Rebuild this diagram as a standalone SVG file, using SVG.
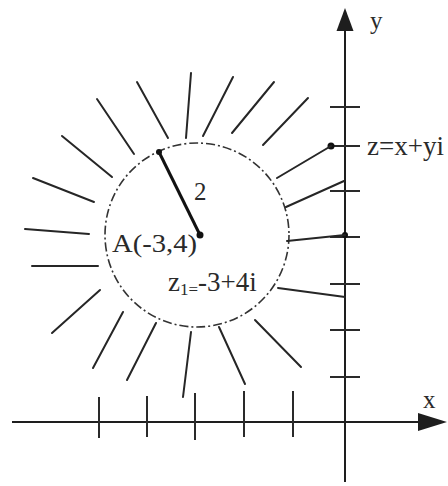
<svg xmlns="http://www.w3.org/2000/svg" width="448" height="486" viewBox="0 0 448 486">
<style>
.ax{stroke:#1e1e1e;stroke-width:2;fill:none}
.tk{stroke:#2a2a2a;stroke-width:2;fill:none}
.sp{stroke:#262626;stroke-width:2;fill:none;stroke-linecap:round}
.cir{stroke:#333;stroke-width:1.6;fill:none;stroke-dasharray:9 3 2 3}
.rad{stroke:#111;stroke-width:3;fill:none}
.dot{fill:#111}
.t{font-family:"Liberation Serif","Times New Roman",serif;fill:#2a2a2a;font-size:25px}
.big{font-size:27px}
</style>
<rect width="448" height="486" fill="#fff"/>
<g id="axes">
  <line class="ax" x1="12" y1="422" x2="422" y2="422"/>
  <polygon points="447,422 418,413 418,431" fill="#1e1e1e"/>
  <line class="ax" x1="345" y1="482" x2="345" y2="28"/>
  <polygon points="345,8 336.5,31 353.5,31" fill="#1e1e1e"/>
  <g id="y-ticks">
    <line class="tk" x1="330" y1="107" x2="360" y2="107"/>
    <line class="tk" x1="330" y1="146" x2="360" y2="146"/>
    <line class="tk" x1="330" y1="191" x2="360" y2="191"/>
    <line class="tk" x1="330" y1="237" x2="360" y2="237"/>
    <line class="tk" x1="330" y1="284" x2="360" y2="284"/>
    <line class="tk" x1="330" y1="330" x2="360" y2="330"/>
    <line class="tk" x1="330" y1="377" x2="360" y2="377"/>
  </g>
  <g id="x-ticks">
    <line class="tk" x1="99" y1="397" x2="99" y2="438"/>
    <line class="tk" x1="147" y1="396" x2="147" y2="437"/>
    <line class="tk" x1="195" y1="393" x2="195" y2="440"/>
    <line class="tk" x1="244" y1="391" x2="244" y2="437"/>
    <line class="tk" x1="293" y1="391" x2="293" y2="437"/>
  </g>
  <text class="t" x="370" y="29">y</text>
  <text class="t" x="423" y="408">x</text>
</g>
<g id="circle">
  <circle class="cir" cx="197" cy="235" r="92"/>
  <line class="rad" x1="159" y1="152" x2="200" y2="235"/>
  <circle class="dot" cx="159" cy="152" r="3"/>
  <circle class="dot" cx="200" cy="235" r="3.5"/>
  <text class="t" x="194" y="200">2</text>
  <text class="t" x="112" y="252" textLength="85" lengthAdjust="spacingAndGlyphs">A(-3,4)</text>
  <text class="t big" x="168" y="291">z<tspan dy="4" font-size="17">1=</tspan><tspan dy="-4">-3+4i</tspan></text>
</g>
<g id="point-z">
  <circle class="dot" cx="331" cy="146" r="3.5"/>
  <circle class="dot" cx="345" cy="235" r="3"/>
  <text class="t big" x="367" y="155">z=x+yi</text>
</g>
<g id="connectors">
  <line class="sp" x1="33" y1="178" x2="94" y2="202"/>
  <line class="sp" x1="62" y1="136" x2="112" y2="177"/>
  <line class="sp" x1="97" y1="99" x2="134" y2="154"/>
  <line class="sp" x1="137" y1="82" x2="168" y2="138"/>
  <line class="sp" x1="191" y1="73" x2="186" y2="138"/>
  <line class="sp" x1="233" y1="77" x2="203" y2="136"/>
  <line class="sp" x1="274" y1="82" x2="232" y2="133"/>
  <line class="sp" x1="308" y1="98" x2="263" y2="145"/>
  <line class="sp" x1="277" y1="178" x2="331" y2="146"/>
  <line class="sp" x1="286" y1="207" x2="344" y2="181"/>
  <line class="sp" x1="287" y1="241" x2="345" y2="235"/>
  <line class="sp" x1="25" y1="229" x2="89" y2="234"/>
  <line class="sp" x1="32" y1="266" x2="98" y2="266"/>
  <line class="sp" x1="100" y1="290" x2="52" y2="333"/>
  <line class="sp" x1="123" y1="312" x2="93" y2="368"/>
  <line class="sp" x1="156" y1="323" x2="127" y2="380"/>
  <line class="sp" x1="191" y1="332" x2="183" y2="397"/>
  <line class="sp" x1="219" y1="327" x2="245" y2="384"/>
  <line class="sp" x1="255" y1="320" x2="301" y2="367"/>
  <line class="sp" x1="278" y1="288" x2="345" y2="297"/>
</g>
</svg>
